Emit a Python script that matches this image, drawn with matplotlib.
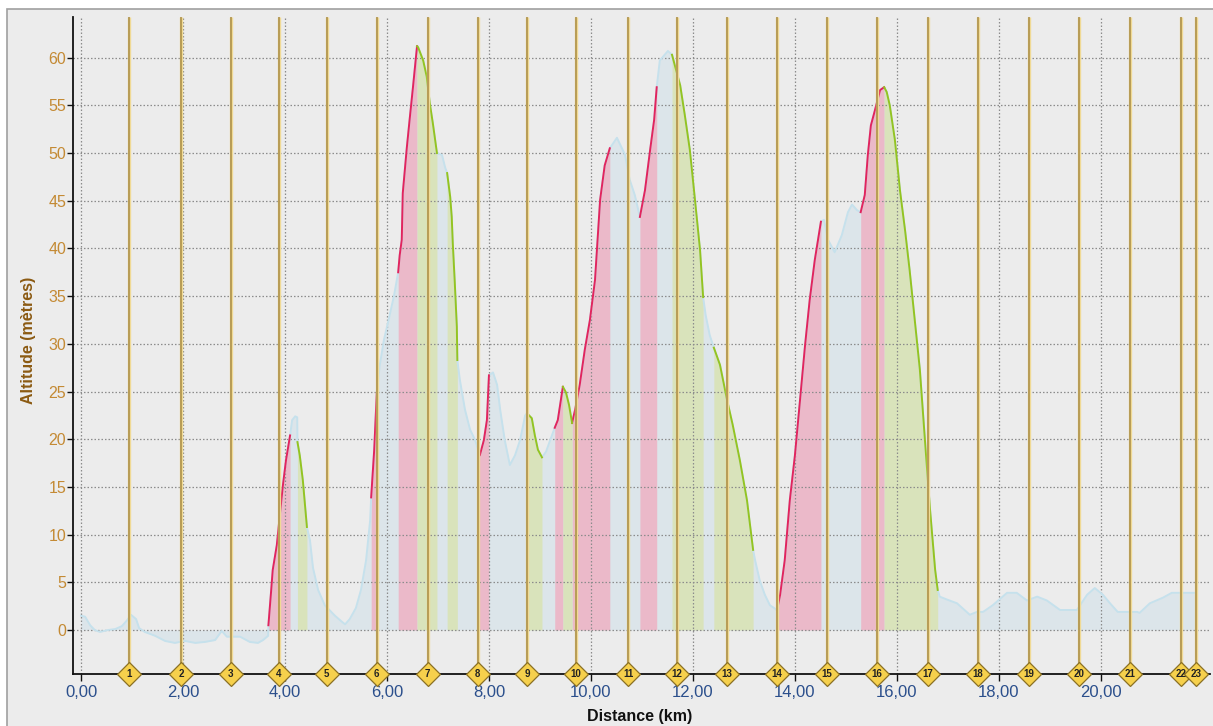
import numpy as np
import matplotlib
matplotlib.use("Agg")
import matplotlib.pyplot as plt
from matplotlib.patches import Rectangle

# ---------------- data ----------------
dist_km = [0.00, 0.08, 0.18, 0.27, 0.37, 0.53, 0.67, 0.80, 0.90, 0.98, 1.08, 1.14, 1.25, 1.45, 1.65,
           1.84, 2.04, 2.24, 2.43, 2.63, 2.76, 2.86, 3.12, 3.31, 3.47, 3.57, 3.67,
           3.675, 3.73, 3.76, 3.84, 3.90, 3.96, 4.02, 4.10,
           4.14, 4.20, 4.24,
           4.245, 4.29, 4.35, 4.43,
           4.49, 4.55, 4.65, 4.78, 4.98, 5.12, 5.18, 5.27, 5.39, 5.49, 5.59, 5.67,
           5.69, 5.75, 5.80,
           5.86, 5.94, 6.04, 6.14, 6.22,
           6.25, 6.29, 6.31, 6.39, 6.45, 6.51, 6.59,
           6.61, 6.71, 6.78, 6.84, 6.90, 6.98,
           7.08, 7.14, 7.18,
           7.24, 7.27, 7.29, 7.33, 7.37, 7.38,
           7.43, 7.53, 7.63, 7.73, 7.80,
           7.82, 7.90, 7.96, 8.00,
           8.08, 8.16, 8.22, 8.31, 8.41, 8.51, 8.61, 8.71, 8.75,
           8.84, 8.90, 8.96, 9.04,
           9.12, 9.20, 9.29,
           9.35, 9.41, 9.45,
           9.51, 9.57, 9.63,
           9.69, 9.78, 9.88, 9.98, 10.08, 10.18, 10.27, 10.37,
           10.51, 10.67, 10.76, 10.86, 10.96,
           11.06, 11.16, 11.24, 11.29,
           11.35, 11.51, 11.59,
           11.75, 11.84, 11.94, 12.04, 12.14, 12.20,
           12.25, 12.33, 12.41,
           12.53, 12.67, 12.78, 12.92, 13.06, 13.18,
           13.22, 13.31, 13.41, 13.51, 13.65,
           13.71, 13.80, 13.90, 14.00, 14.10, 14.20, 14.29, 14.39, 14.51,
           14.57, 14.65, 14.78, 14.92, 15.04, 15.12, 15.22, 15.29,
           15.37, 15.43, 15.49, 15.57, 15.67, 15.75,
           15.80, 15.86, 15.96, 16.06, 16.16, 16.25, 16.35, 16.45, 16.55, 16.65, 16.75, 16.80,
           16.84, 16.98, 17.18, 17.43, 17.57, 17.69, 17.88, 18.16, 18.35, 18.55, 18.75, 18.94,
           19.20, 19.53, 19.73, 19.88, 20.04, 20.18, 20.33, 20.71, 20.76, 20.96, 21.22, 21.39, 21.84]

altitude_m = [1.5, 1.4, 0.5, 0.0, -0.2, 0.0, 0.1, 0.4, 1.0, 1.6, 1.15, 0.2, -0.2, -0.6, -1.15,
              -1.35, -1.15, -1.35, -1.25, -1.05, -0.1, -0.7, -0.7, -1.25, -1.35, -1.05, -0.6,
              0.5, 4.2, 6.3, 8.9, 12.1, 15.2, 17.8, 20.4,
              22.0, 22.4, 22.3,
              19.7, 18.3, 15.7, 10.8,
              9.4, 6.5, 4.2, 2.6, 1.5, 0.85, 0.6, 1.15, 2.3, 4.2, 7.3, 11.5,
              13.9, 18.9, 24.8,
              27.8, 30.4, 32.7, 35.1, 37.5,
              39.3, 40.9, 45.8, 50.6, 53.8, 56.9, 61.2,
              61.1, 59.7, 58.0, 55.2, 53.1, 50.0,
              49.8, 48.5, 47.9,
              45.4, 43.3, 40.6, 36.4, 31.8, 28.3,
              26.2, 23.1, 21.0, 19.9, 18.7,
              18.3, 19.9, 22.0, 26.7,
              27.0, 25.7, 23.1, 19.9, 17.3, 18.3, 19.9, 22.5, 22.7,
              22.2, 20.4, 18.9, 18.1,
              18.7, 19.9, 21.2,
              22.0, 24.1, 25.5,
              24.9, 23.6, 21.7,
              23.1, 25.7, 29.4, 32.5, 36.7, 45.1, 48.7, 50.5,
              51.6, 49.8, 47.2, 45.6, 43.3,
              46.1, 50.3, 53.5, 56.9,
              59.7, 60.7, 60.3,
              57.1, 54.0, 50.3, 45.1, 39.8, 34.9,
              33.0, 30.9, 29.6,
              27.8, 24.1, 21.5, 17.8, 13.6, 8.4,
              7.3, 5.2, 3.7, 2.6, 2.1,
              3.7, 7.3, 13.6, 18.3, 24.1, 29.9, 34.6, 38.8, 42.8,
              43.0, 40.9, 39.6, 41.4, 43.8, 44.6, 44.0, 43.8,
              45.6, 49.8, 52.9, 54.5, 56.6, 56.9,
              56.4, 55.0, 51.4, 46.1, 41.9, 37.7, 32.5, 27.3, 19.9, 12.6, 6.3, 4.2,
              3.5, 3.2, 2.8, 1.6, 1.9, 1.9, 2.6, 3.9, 3.9, 3.1, 3.5, 3.1,
              2.1, 2.1, 3.7, 4.4, 3.7, 2.8, 1.9, 1.9, 1.8, 2.8, 3.4, 3.9, 3.9]

climb_start = [3.675, 5.69, 6.22, 7.80, 9.29, 9.63, 10.96, 13.65, 15.29]
climb_end = [4.10, 5.80, 6.59, 8.00, 9.45, 10.37, 11.29, 14.51, 15.75]
descent_start = [4.245, 6.59, 7.18, 8.75, 9.45, 11.59, 12.41, 15.75]
descent_end = [4.43, 6.98, 7.38, 9.04, 9.63, 12.20, 13.18, 16.80]

km_marker_pos = [0.94, 1.96, 2.94, 3.88, 4.82, 5.80, 6.80, 7.78, 8.75, 9.71, 10.73, 11.69,
                 12.67, 13.65, 14.63, 15.61, 16.61, 17.59, 18.59, 19.57, 20.57, 21.57, 21.86]
km_marker_labels = [str(i) for i in range(1, 24)]

x_ticks = [0, 2, 4, 6, 8, 10, 12, 14, 16, 18, 20]
x_tick_labels = ["0,00", "2,00", "4,00", "6,00", "8,00", "10,00", "12,00", "14,00", "16,00", "18,00", "20,00"]
y_ticks = [0, 5, 10, 15, 20, 25, 30, 35, 40, 45, 50, 55, 60]

# ---------------- figure ----------------
W, H = 1213, 726
fig = plt.figure(figsize=(W / 100, H / 100), dpi=100, facecolor="white")
bg = Rectangle((7 / W, -0.1), 1.2, 1.1 - 9 / H, transform=fig.transFigure,
               facecolor="#ECECEC", edgecolor="#A0A0A0", linewidth=1.2, zorder=-10)
fig.patches.append(bg)

ax = fig.add_axes([73 / W, (H - 674) / H, (1210 - 73) / W, (674 - 17) / H])
ax.set_zorder(1)
ax.patch.set_visible(False)

x = np.array(dist_km)
y = np.array(altitude_m)

# base profile
ax.fill_between(x, 0, y, color="#DCE5EA", linewidth=0, zorder=1)
ax.plot(x, y, color="#C6E1EC", linewidth=1.4, zorder=2.6)

eps = 1e-6
for a, b in zip(climb_start, climb_end):
    m = (x >= a - eps) & (x <= b + eps)
    ax.fill_between(x[m], 0, y[m], color="#EBB9C9", linewidth=0, zorder=1.2)
    ax.plot(x[m], y[m], color="#E2245E", linewidth=1.4, zorder=2.7)
for a, b in zip(descent_start, descent_end):
    m = (x >= a - eps) & (x <= b + eps)
    ax.fill_between(x[m], 0, y[m], color="#D9E3BB", linewidth=0, zorder=1.2)
    ax.plot(x[m], y[m], color="#94C421", linewidth=1.4, zorder=2.7)

xmin, xmax = -0.157, 22.14
ymin, ymax = -4.61, 64.26
ax.set_xlim(xmin, xmax)
ax.set_ylim(ymin, ymax)

# grid
ax.set_axisbelow(False)
ax.grid(True, color="#8C8C8C", linestyle=(0, (1.2, 1.6)), linewidth=0.9)
ax.set_xticks(x_ticks)
ax.set_xticklabels(x_tick_labels)
ax.set_yticks(y_ticks)

for s in ["top", "right"]:
    ax.spines[s].set_visible(False)
for s in ["left", "bottom"]:
    ax.spines[s].set_color("#111111")
    ax.spines[s].set_linewidth(1.3)
    ax.spines[s].set_zorder(3.5)

ax.tick_params(axis="y", direction="out", length=4, width=1, color="#111111", pad=1,
               labelsize=11.5, labelcolor="#C48A34", labelfontfamily="Liberation Sans")
ax.tick_params(axis="x", direction="out", length=5, width=1, color="#111111", pad=3,
               labelsize=12, labelcolor="#2B4F8C", labelfontfamily="Liberation Sans")

# km marker lines
for xp, lab in zip(km_marker_pos, km_marker_labels):
    ax.plot([xp, xp], [ymin, ymax], color="#F0DA95", linewidth=2.4, zorder=3, solid_capstyle="butt")
    ax.plot([xp, xp], [ymin, ymax], color="#A88B45", linewidth=1.1, zorder=3.1, solid_capstyle="butt")
    ax.plot([xp], [ymin], marker="D", markersize=12.5, markerfacecolor="#F6D04C",
            markeredgecolor="#8A7024", markeredgewidth=0.9, clip_on=False, zorder=5)
    ax.text(xp, ymin, lab, ha="center", va="center", fontsize=7, fontweight="bold",
            color="#222222", family="Liberation Sans", zorder=6, clip_on=False)

fig.text(28 / W, 1 - 340 / H, "Altitude (mètres)", rotation=90, ha="center", va="center",
         fontsize=11.5, fontweight="bold", color="#8B5A12", family="Liberation Sans")
fig.text(640 / W, 1 - 716 / H, "Distance (km)", ha="center", va="center",
         fontsize=11.5, fontweight="bold", color="#111111", family="Liberation Sans")

fig.savefig("out.png", dpi=100, facecolor="white")
